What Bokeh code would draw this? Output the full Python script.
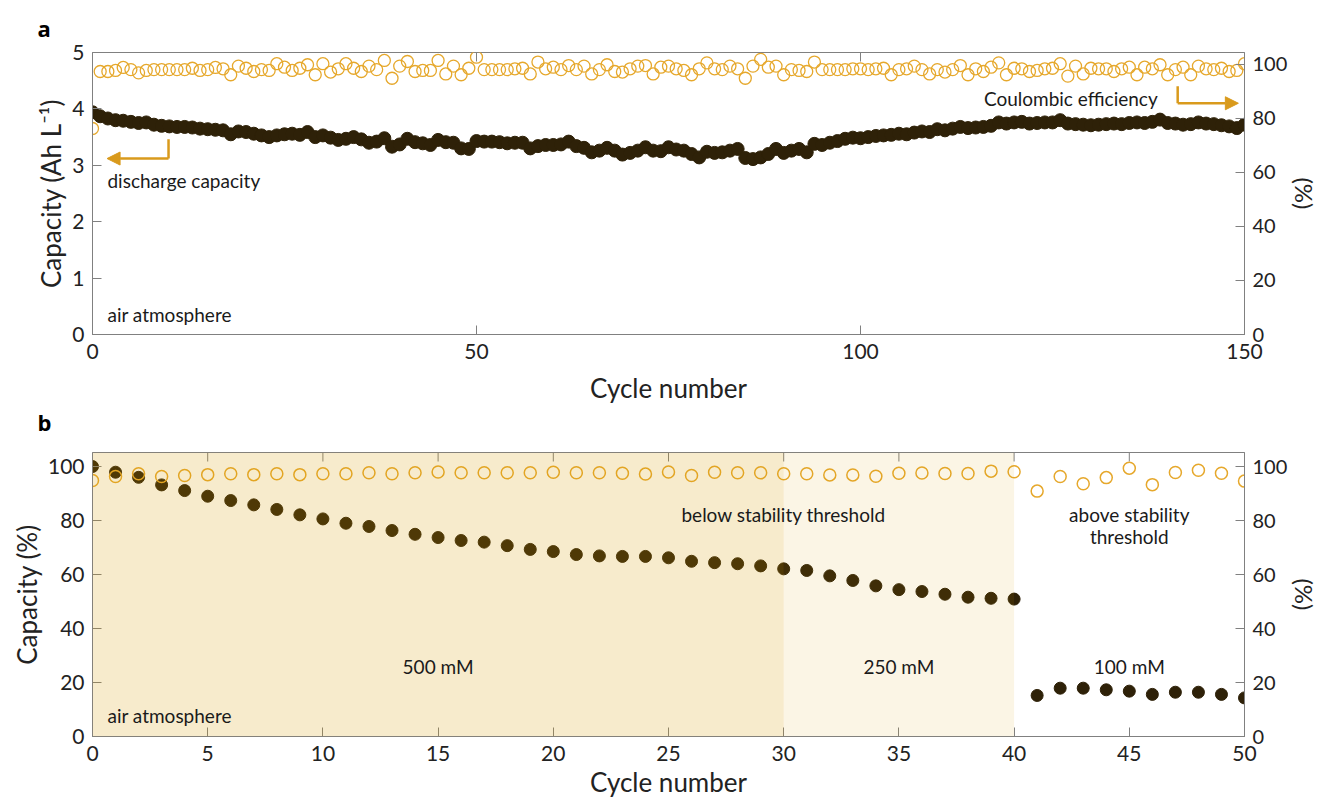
from bokeh.plotting import figure
from bokeh.models import (Range1d, LinearAxis, SingleIntervalTicker, BoxAnnotation,
                          Label, Arrow, NormalHead, Title)
from bokeh.layouts import column
from bokeh.embed import file_html
from bokeh.resources import INLINE

# ---------------- data: panel a ----------------
cycles_a = list(range(151))
cap_a = [3.94, 3.87, 3.83, 3.80, 3.79, 3.77, 3.75, 3.76, 3.72, 3.70,
         3.69, 3.68, 3.68, 3.67, 3.65, 3.64, 3.63, 3.62, 3.55, 3.60,
         3.59, 3.56, 3.53, 3.50, 3.53, 3.55, 3.56, 3.54, 3.59, 3.50,
         3.53, 3.49, 3.45, 3.47, 3.50, 3.46, 3.40, 3.42, 3.48, 3.33,
         3.37, 3.47, 3.41, 3.39, 3.36, 3.45, 3.41, 3.40, 3.30, 3.29,
         3.43, 3.42, 3.42, 3.41, 3.39, 3.40, 3.40, 3.30, 3.34, 3.36,
         3.36, 3.37, 3.42, 3.34, 3.31, 3.23, 3.26, 3.31, 3.26, 3.19,
         3.22, 3.26, 3.32, 3.26, 3.25, 3.32, 3.28, 3.26, 3.20, 3.14,
         3.24, 3.22, 3.23, 3.26, 3.29, 3.13, 3.11, 3.14, 3.20, 3.29,
         3.22, 3.26, 3.29, 3.23, 3.38, 3.36, 3.40, 3.43, 3.47, 3.49,
         3.48, 3.50, 3.52, 3.53, 3.54, 3.56, 3.55, 3.58, 3.60, 3.59,
         3.64, 3.62, 3.65, 3.68, 3.66, 3.67, 3.68, 3.70, 3.76, 3.74,
         3.76, 3.77, 3.74, 3.75, 3.76, 3.76, 3.80, 3.74, 3.73, 3.72,
         3.71, 3.72, 3.73, 3.74, 3.73, 3.75, 3.76, 3.75, 3.77, 3.81,
         3.75, 3.74, 3.72, 3.73, 3.76, 3.74, 3.73, 3.71, 3.69, 3.66,
         3.72]
ce_a = [76.3, 97.4, 97.4, 97.8, 98.9, 98.1, 96.9, 97.8, 98.1, 98.1,
        98.1, 98.1, 98.1, 98.6, 97.8, 98.1, 98.9, 98.4, 96.2, 99.4,
        98.6, 97.4, 98.1, 97.8, 100.3, 99.0, 97.8, 98.6, 99.9, 96.2,
        100.3, 97.2, 98.4, 100.3, 98.6, 97.4, 99.4, 98.1, 101.5, 94.9,
        99.4, 101.1, 97.4, 97.8, 97.8, 101.5, 96.5, 99.4, 96.2, 98.6,
        102.7, 98.1, 98.1, 98.1, 98.1, 98.4, 98.6, 96.5, 100.9, 98.4,
        99.0, 98.1, 99.6, 98.1, 99.4, 96.5, 98.1, 99.9, 97.4, 97.2,
        98.4, 99.4, 99.6, 96.5, 99.0, 99.4, 98.4, 97.8, 96.2, 98.4,
        100.6, 98.4, 98.1, 99.4, 98.4, 94.9, 99.4, 101.9, 99.0, 99.4,
        96.2, 98.1, 97.8, 97.4, 100.9, 98.1, 98.1, 98.1, 98.1, 98.4,
        98.4, 98.1, 98.4, 98.6, 96.2, 98.1, 98.4, 99.4, 98.1, 96.5,
        98.1, 97.2, 98.1, 99.6, 96.2, 98.4, 97.4, 99.0, 100.6, 96.2,
        98.6, 98.4, 97.4, 97.8, 98.4, 98.6, 100.3, 95.7, 99.4, 96.5,
        98.6, 98.4, 98.4, 97.4, 98.4, 99.0, 96.2, 99.0, 98.4, 99.9,
        96.2, 98.1, 99.0, 96.2, 99.4, 98.4, 98.1, 98.6, 97.4, 97.8,
        100.3]
xticks_a = [0, 50, 100, 150]

# ---------------- data: panel b ----------------
cycles_b = list(range(51))
cap_b = [100.0, 97.9, 96.0, 93.2, 91.1, 89.0, 87.4, 85.8, 84.1, 82.1,
         80.6, 79.0, 77.8, 76.3, 74.9, 73.7, 72.6, 72.0, 70.7, 69.3,
         68.5, 67.4, 66.9, 66.7, 66.7, 66.2, 64.9, 64.4, 64.0, 63.2,
         62.1, 61.5, 59.5, 57.8, 55.8, 54.4, 53.7, 52.7, 51.6, 51.2,
         50.9, 15.2, 17.9, 17.9, 17.3, 16.8, 15.6, 16.4, 16.4, 15.6,
         14.3]
ce_b = [94.8, 96.3, 97.3, 96.3, 96.7, 97.0, 97.3, 97.0, 97.3, 97.0,
        97.3, 97.3, 97.7, 97.3, 97.7, 98.0, 97.7, 97.7, 97.7, 97.7,
        97.9, 97.7, 97.7, 97.5, 97.2, 98.0, 96.7, 97.9, 97.7, 97.7,
        97.3, 97.3, 96.9, 96.9, 96.4, 97.5, 97.6, 97.4, 97.4, 98.3,
        98.1, 90.9, 96.3, 93.6, 95.9, 99.4, 93.3, 97.8, 98.6, 97.5,
        94.6]
xticks_b = [0, 5, 10, 15, 20, 25, 30, 35, 40, 45, 50]

# concentration regions in panel b (cycle ranges)
region_bounds = [(0, 30), (30, 40)]
region_alpha = [0.2, 0.1]

FONT = "Lato"
DARK = "#2E2108"
ORANGE = "#E6A82C"
ARROW = "#D99A1C"
AXC = "#808080"
TXT = "#1a1a1a"
TICK_PX = 9


def style_axis(ax, ticker, standoff, right=False):
    ax.ticker = ticker
    ax.major_tick_in = TICK_PX
    ax.major_tick_out = 0
    ax.minor_tick_line_color = None
    ax.axis_line_color = AXC
    ax.major_tick_line_color = AXC
    ax.major_label_text_font = FONT
    ax.major_label_text_font_size = "20px" if right else "21px"
    ax.major_label_text_color = "#222222"
    ax.major_label_standoff = standoff
    ax.axis_label_text_font = FONT
    ax.axis_label_text_font_size = "24px" if right else "26px"
    ax.axis_label_text_font_style = "normal"
    ax.axis_label_text_color = "#222222"
    ax.axis_label_standoff = 0 if right else 2


def style_title(t, letter, valign, standoff):
    t.text = letter
    t.text_font = "Open Sans"
    t.text_font_size = "22px"
    t.text_font_style = "bold"
    t.text_color = "black"
    t.align = "left"
    t.vertical_align = valign
    t.offset = -55
    t.standoff = standoff


def base_fig(height, xr, yr, top, bottom):
    p = figure(width=1323, height=height, x_range=xr, y_range=yr,
               output_backend="svg", toolbar_location=None,
               min_border_left=92, min_border_right=79,
               min_border_top=top, min_border_bottom=bottom)
    p.xgrid.visible = False
    p.ygrid.visible = False
    p.outline_line_color = AXC
    p.background_fill_color = "white"
    p.border_fill_color = "white"
    return p


def lab(p, x, y, text, size="19px", align="left", base="middle"):
    p.add_layout(Label(x=x, y=y, text=text, text_font=FONT, text_font_size=size,
                       text_color=TXT, text_align=align, text_baseline=base))


# ================= panel a =================
ya_max = 5.0
pa = base_fig(438, Range1d(0, 150), Range1d(0, ya_max), 52, 0)
style_title(pa.title, "a", "bottom", 20)
pa.extra_y_ranges = {"ce": Range1d(0, 104.44)}
style_axis(pa.xaxis[0], SingleIntervalTicker(interval=50, num_minor_ticks=0), 9)
pa.xaxis[0].axis_label = "Cycle number"
pa.xaxis[0].axis_label_standoff = 10
style_axis(pa.yaxis[0], SingleIntervalTicker(interval=1, num_minor_ticks=0), 8)
pa.yaxis[0].axis_label = "Capacity (Ah L\u207b\u00b9)"
ra = LinearAxis(y_range_name="ce", axis_label="(%)")
style_axis(ra, SingleIntervalTicker(interval=20, num_minor_ticks=0), 8, right=True)
pa.add_layout(ra, "right")
# panel letter "b" sits under panel a's x-axis label
tb = Title()
style_title(tb, "b", "top", 0)
pa.add_layout(tb, "below")

# inward tick marks on the top edge
tick_a = ya_max * TICK_PX / 282.0
pa.segment(x0=xticks_a, x1=xticks_a, y0=[ya_max] * len(xticks_a),
           y1=[ya_max - tick_a] * len(xticks_a), line_color=AXC, line_width=1)

pa.scatter(cycles_a, cap_a, size=13, fill_color=DARK, line_color=DARK)
pa.scatter(cycles_a, ce_a, y_range_name="ce", size=12, fill_color=None,
           line_color=ORANGE, line_width=1.3)

# arrows (data units)
pa.segment(x0=[9.9], y0=[3.46], x1=[9.9], y1=[3.12], line_color=ARROW, line_width=2.5)
pa.add_layout(Arrow(end=NormalHead(size=13, fill_color=ARROW, line_color=ARROW),
                    x_start=9.9, y_start=3.12, x_end=1.9, y_end=3.12,
                    line_color=ARROW, line_width=2.5))
pa.segment(x0=[141.3], y0=[4.40], x1=[141.3], y1=[4.10], line_color=ARROW, line_width=2.5)
pa.add_layout(Arrow(end=NormalHead(size=13, fill_color=ARROW, line_color=ARROW),
                    x_start=141.3, y_start=4.10, x_end=149.2, y_end=4.10,
                    line_color=ARROW, line_width=2.5))

lab(pa, 1.95, 2.73, "discharge capacity")
lab(pa, 138.7, 4.18, "Coulombic efficiency", align="right")
lab(pa, 1.95, 0.355, "air atmosphere")

# ================= panel b =================
yb_max = 105.2
pb = base_fig(366, Range1d(0, 50), Range1d(0, yb_max), 14, 68)
pb.title.text = ""
style_axis(pb.xaxis[0], SingleIntervalTicker(interval=5, num_minor_ticks=0), 9)
pb.xaxis[0].axis_label = "Cycle number"
style_axis(pb.yaxis[0], SingleIntervalTicker(interval=20, num_minor_ticks=0), 8)
pb.yaxis[0].axis_label = "Capacity (%)"
rb = LinearAxis(axis_label="(%)")
style_axis(rb, SingleIntervalTicker(interval=20, num_minor_ticks=0), 8, right=True)
pb.add_layout(rb, "right")

tick_b = yb_max * TICK_PX / 284.0
pb.segment(x0=xticks_b, x1=xticks_b, y0=[yb_max] * len(xticks_b),
           y1=[yb_max - tick_b] * len(xticks_b), line_color=AXC, line_width=1)

pb.scatter(cycles_b, cap_b, size=12, fill_color=DARK, line_color=DARK)
pb.scatter(cycles_b, ce_b, size=12, fill_color=None, line_color=ORANGE, line_width=1.5)

for (l, r), a in zip(region_bounds, region_alpha):
    pb.add_layout(BoxAnnotation(left=l, right=r, fill_color="#D89A00", fill_alpha=a,
                                line_color=None))

lab(pb, 30.0, 82.2, "below stability threshold", align="center")
lab(pb, 45.0, 82.2, "above stability", align="center")
lab(pb, 45.0, 74.1, "threshold", align="center")
lab(pb, 15.0, 25.9, "500 mM", align="center")
lab(pb, 35.0, 25.9, "250 mM", align="center")
lab(pb, 45.0, 25.9, "100 mM", align="center")
lab(pb, 0.65, 7.6, "air atmosphere")

layout = column(pa, pb)
open("out.html", "w").write(file_html(layout, INLINE))
